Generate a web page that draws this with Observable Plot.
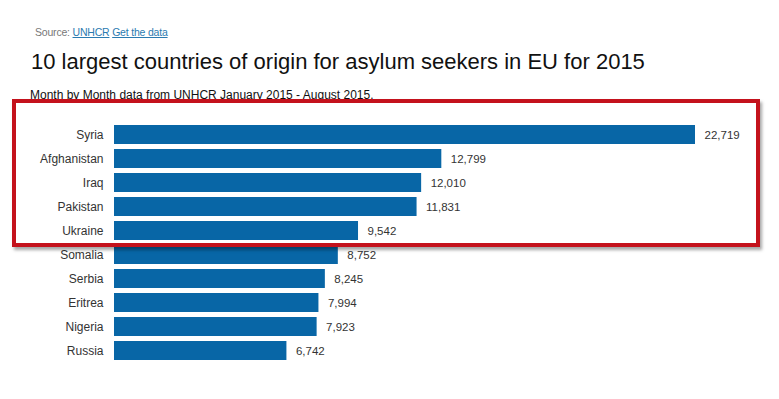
<!DOCTYPE html>
<html>
<head>
<meta charset="utf-8">
<script src="https://cdn.jsdelivr.net/npm/d3@7"></script>
<script src="https://cdn.jsdelivr.net/npm/@observablehq/plot@0.6"></script>
<style>
  html, body { margin: 0; padding: 0; background: #ffffff; }
  body { width: 779px; height: 399px; position: relative; overflow: hidden; font-family: "Liberation Sans", Arial, sans-serif; }
  #source { position: absolute; left: 35px; top: 26px; font-size: 10.5px; letter-spacing: -0.2px; color: #777; }
  #source a { color: #2b7bb0; text-decoration: underline; }
  #title { position: absolute; left: 31px; top: 49px; font-size: 22px; color: #111; white-space: nowrap; }
  #subtitle { position: absolute; left: 30px; top: 88px; font-size: 12px; color: #111; white-space: nowrap; }
  #chart { position: absolute; left: 0; top: 110px; }
  #box { position: absolute; left: 12px; top: 99px; width: 740px; height: 140px; border: 4px solid #c4121c; box-shadow: 2px 3px 3px rgba(0,0,0,0.35); pointer-events: none; }
</style>
</head>
<body>
<div id="source">Source: <a>UNHCR</a> <a>Get the data</a></div>
<div id="title">10 largest countries of origin for asylum seekers in EU for 2015</div>
<div id="subtitle">Month by Month data from UNHCR January 2015 - August 2015.</div>
<div id="chart"></div>
<div id="box"></div>
<script>
const countries = ["Syria", "Afghanistan", "Iraq", "Pakistan", "Ukraine", "Somalia", "Serbia", "Eritrea", "Nigeria", "Russia"];
const asylumSeekers = [22719, 12799, 12010, 11831, 9542, 8752, 8245, 7994, 7923, 6742];

const data = countries.map((c, i) => ({country: c, value: asylumSeekers[i]}));
const fmt = d3.format(",");

const chart = Plot.plot({
  width: 779,
  height: 270,
  marginLeft: 114,
  marginRight: 84,
  marginTop: 8,
  marginBottom: 13,
  style: {fontFamily: "Liberation Sans, Arial, sans-serif", fontSize: "12px", color: "#333", background: "transparent"},
  x: {domain: [0, 22719], axis: null},
  y: {domain: countries, padding: 0.22, label: null, tickSize: 0, tickPadding: 11},
  marks: [
    Plot.barX(data, {x: "value", y: "country", fill: "#0866a6"}),
    Plot.text(data, {x: "value", y: "country", text: d => fmt(d.value), textAnchor: "start", dx: 9, fill: "#333", fontSize: 11.5})
  ]
});
document.getElementById("chart").appendChild(chart);
</script>
</body>
</html>
